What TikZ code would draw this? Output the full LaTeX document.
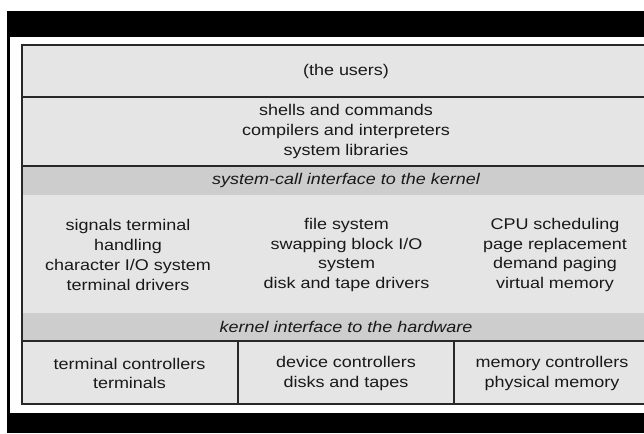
\documentclass[tikz,border=0pt]{standalone}
\usepackage{fontspec}
\setmainfont[FakeStretch=1.16]{Liberation Sans}
\definecolor{cellgray}{RGB}{229,229,229}
\definecolor{bandgray}{RGB}{205,205,205}
\definecolor{linegray}{RGB}{40,40,40}
\definecolor{txt}{RGB}{25,25,25}
\begin{document}
\begin{tikzpicture}[x=1pt,y=-1pt,
  cell/.style={rectangle,inner sep=0pt,outer sep=0pt,fill=cellgray,minimum width=#1},
  band/.style={rectangle,inner sep=0pt,outer sep=0pt,fill=bandgray,minimum width=648pt},
  lbl/.style={align=center,inner sep=0pt,text=txt,font=\fontsize{15.5}{19.7}\selectfont},
  ilbl/.style={lbl,font=\fontsize{15.5}{19.7}\selectfont\itshape},
  rule/.style={draw=linegray,line width=1.1pt}]
\useasboundingbox (0,0) rectangle (644,433);
\clip (0,0) rectangle (644,433);
% black frame
\fill[black] (7,11) rectangle (644,37);
\fill[black] (7,11) rectangle (10,433);
\fill[black] (7,413) rectangle (644,433);
% cells
\node[cell=648pt,minimum height=52pt] (users) at (346,71) {};
\node[cell=648pt,minimum height=69pt] (shells) at (346,131.5) {};
\node[band,minimum height=29pt] (syscall) at (346,180.5) {};
\node[cell=648pt,minimum height=118pt] (kernel) at (346,254) {};
\node[band,minimum height=28pt] (kiface) at (346,327) {};
\node[cell=216pt,minimum height=63pt] (hw1) at (130,372.5) {};
\node[cell=216pt,minimum height=63pt] (hw2) at (346,372.5) {};
\node[cell=216pt,minimum height=63pt] (hw3) at (562,372.5) {};
% texts
\node[lbl] (tusers) at (users) {(the users)};
\node[lbl] (tshells) at (shells) {shells and commands\\compilers and interpreters\\system libraries};
\node[ilbl] (tsyscall) at (syscall) {system-call interface to the kernel};
\node[lbl] (tk1) at (128,255) {signals terminal\\handling\\character I/O system\\terminal drivers};
\node[lbl] (tk2) at (346.5,255) {file system\\swapping block I/O\\system\\disk and tape drivers};
\node[lbl] (tk3) at (555,255) {CPU scheduling\\page replacement\\demand paging\\virtual memory};
\node[ilbl] (tkiface) at (kiface) {kernel interface to the hardware};
\node[lbl] (th1) at (129.5,373.5) {terminal controllers\\terminals};
\node[lbl] (th2) at (346,373.5) {device controllers\\disks and tapes};
\node[lbl] (th3) at (552,373.5) {memory controllers\\physical memory};
% rules
\draw[rule] (users.north west) rectangle (hw3.south east);
\draw[rule] (users.south west) -- (users.south east);
\draw[rule] (shells.south west) -- (shells.south east);
\draw[rule] (kiface.south west) -- (kiface.south east);
\draw[rule] (hw1.north east) -- (hw1.south east);
\draw[rule] (hw2.north east) -- (hw2.south east);
\end{tikzpicture}
\end{document}
